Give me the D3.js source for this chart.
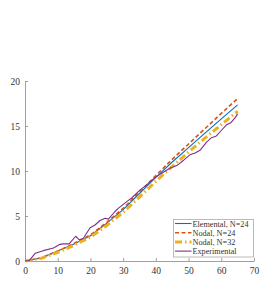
<!DOCTYPE html>
<html>
<head>
<meta charset="utf-8">
<script src="https://cdn.jsdelivr.net/npm/d3@7"></script>
<style>
  body { margin: 0; background: #fff; }
  svg { display: block; }
  text { font-family: "Liberation Serif", "DejaVu Serif", serif; fill: #333; }
</style>
</head>
<body>
<script>
// model curves share x positions
var modelX     = [0, 5, 10, 15, 20, 25, 30, 35, 40, 45, 50, 55, 60, 65];
var elemental  = [0, 0.35, 1.1, 1.9, 2.8, 4.2, 5.7, 7.5, 9.3, 11.0, 12.6, 14.2, 15.8, 17.35];
var nodal24    = [0, 0.35, 1.1, 1.95, 2.9, 4.3, 5.85, 7.65, 9.5, 11.3, 13.0, 14.7, 16.4, 18.05];
var nodal32    = [0, 0.3, 0.95, 1.75, 2.65, 3.95, 5.4, 7.1, 8.85, 10.5, 12.1, 13.65, 15.15, 16.65];

// experimental trace
var expX = [0, 1.3, 3.1, 5.6, 8.7, 10.7, 11.7, 13.5, 15.5, 16.6, 17.8, 19.9, 21.4, 22.9, 24.5, 25.5,
            27.5, 28.5, 31.1, 32.6, 35.2, 37, 38.5, 40.3, 42, 44.3, 46.4, 48.5, 50.4, 52, 53.5,
            55.5, 57, 58.5, 60, 61.5, 63, 64.2, 65];
var expY = [0, 0.05, 0.85, 1.15, 1.45, 1.85, 1.9, 1.9, 2.75, 2.35, 2.5, 3.7, 4.0, 4.5, 4.75, 4.65,
            5.5, 5.85, 6.6, 7.0, 7.9, 8.4, 8.9, 9.4, 9.8, 10.3, 10.6, 11.2, 11.8, 12.0, 12.3,
            13.2, 13.7, 13.9, 14.5, 15.1, 15.4, 15.9, 16.35];

var xTicks = [0, 10, 20, 30, 40, 50, 60, 70];
var yTicks = [0, 5, 10, 15, 20];

var series = [
  {name: "Elemental, N=24", x: modelX, y: elemental, color: "#0072BD", width: 1.1, dash: null},
  {name: "Nodal, N=24",     x: modelX, y: nodal24,   color: "#D95319", width: 1.6, dash: "4,2.5"},
  {name: "Nodal, N=32",     x: modelX, y: nodal32,   color: "#EDB120", width: 3,   dash: "7,3,1.5,3"},
  {name: "Experimental",    x: expX,   y: expY,      color: "#7E2F8E", width: 1.1, dash: null}
];

var W = 269, H = 295;
var svg = d3.select("body").append("svg").attr("width", W).attr("height", H);

var x = d3.scaleLinear().domain([0, 70]).range([25, 254]);
var y = d3.scaleLinear().domain([0, 20]).range([261, 81]);

// axes, matlab style ticks pointing in
var xAxis = svg.append("g").attr("transform", "translate(0," + y(0) + ")")
  .call(d3.axisBottom(x).tickValues(xTicks).tickSizeInner(-3).tickSizeOuter(0).tickPadding(6));
var yAxis = svg.append("g").attr("transform", "translate(" + x(0) + ",0)")
  .call(d3.axisLeft(y).tickValues(yTicks).tickSizeInner(-3).tickSizeOuter(0).tickPadding(5));

[xAxis, yAxis].forEach(function(g) {
  g.select(".domain").attr("stroke", "#888").attr("stroke-width", 0.8);
  g.selectAll(".tick line").attr("stroke", "#888").attr("stroke-width", 0.8);
  g.selectAll(".tick text").attr("fill", "#444").style("font-size", "9.5px")
    .style("font-family", "'Liberation Serif', serif");
});

var line = d3.line()
  .x(function(d) { return x(d[0]); })
  .y(function(d) { return y(d[1]); });

series.forEach(function(s) {
  var pts = s.x.map(function(v, i) { return [v, s.y[i]]; });
  svg.append("path")
    .datum(pts)
    .attr("d", line)
    .attr("fill", "none")
    .attr("stroke", s.color)
    .attr("stroke-width", s.width)
    .attr("stroke-dasharray", s.dash)
    .attr("stroke-linejoin", "round");
});

// legend
var leg = svg.append("g");
leg.append("rect")
  .attr("x", 173.5).attr("y", 219.5).attr("width", 80).attr("height", 37.5)
  .attr("fill", "#fff").attr("stroke", "#aaa").attr("stroke-width", 0.8);

series.forEach(function(s, i) {
  var ry = 223.5 + i * 9.2;
  leg.append("line")
    .attr("x1", 175).attr("x2", 191.5).attr("y1", ry).attr("y2", ry)
    .attr("stroke", s.color).attr("stroke-width", s.width)
    .attr("stroke-dasharray", s.dash);
  leg.append("text")
    .attr("x", 192.5).attr("y", ry + 3)
    .style("font-size", "8.2px")
    .text(s.name);
});
</script>
</body>
</html>
